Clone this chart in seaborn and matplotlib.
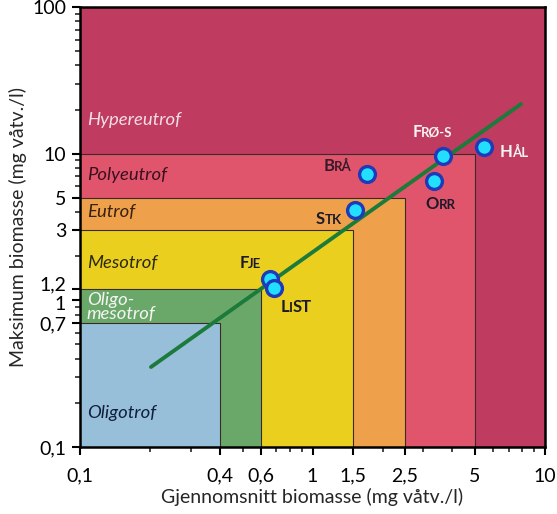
import matplotlib
matplotlib.use("Agg")
import matplotlib.pyplot as plt
import seaborn as sns
import pandas as pd
from matplotlib.patches import Rectangle
from matplotlib.ticker import FixedLocator, FixedFormatter, NullFormatter
from matplotlib.transforms import ScaledTranslation

# ---- data ----
classes = ["Hypereutrof", "Polyeutrof", "Eutrof", "Mesotrof", "Oligo-\nmesotrof", "Oligotrof"]
class_x_max = [10, 5, 2.5, 1.5, 0.6, 0.4]
class_y_max = [100, 10, 5, 3, 1.2, 0.7]
class_colors = ["#C03B60", "#E0556B", "#EEA14A", "#EBCF1E", "#6AA86A", "#98BFDA"]
class_label_y = [16.9, 7.1, 4.0, 1.80, 0.90, 0.17]
class_label_color = ["#F2DDE4", "#3A1020", "#3A2010", "#2A2A10", "#F4F4F4", "#10203A"]

lakes = ["Fje", "LiST", "Stk", "Brå", "Frø-S", "Orr", "Hål"]
mean_biomass = [0.655, 0.683, 1.52, 1.71, 3.64, 3.33, 5.47]
max_biomass = [1.40, 1.21, 4.13, 7.26, 9.64, 6.50, 11.1]

line_x = [0.202, 7.89]
line_y = [0.351, 21.8]

x_ticks = [0.1, 0.4, 0.6, 1, 1.5, 2.5, 5, 10]
x_ticklabels = ["0,1", "0,4", "0,6", "1", "1,5", "2,5", "5", "10"]
y_ticks = [0.1, 0.7, 1, 1.2, 3, 5, 10, 100]
y_ticklabels = ["0,1", "0,7", "1", "1,2", "3", "5", "10", "100"]

sns.set_style("white")
plt.rcParams["font.family"] = ["Lato", "DejaVu Sans"]

fig = plt.figure(figsize=(5.57, 5.14), dpi=100)
ax = fig.add_axes([0.1436, 0.1304, 0.8349, 0.856])
ax.set_xscale("log")
ax.set_yscale("log")
ax.set_xlim(0.1, 10)
ax.set_ylim(0.1, 100)

for name, xm, ym, c, ly, lc in zip(classes, class_x_max, class_y_max, class_colors,
                                     class_label_y, class_label_color):
    ax.add_patch(Rectangle((0.1, 0.1), xm - 0.1, ym - 0.1, facecolor=c,
                           edgecolor="#3a2a2a", linewidth=0.8, zorder=1))
    ax.text(0.107, ly, name, style="italic", fontsize=13.3, color=lc,
            va="center", ha="left", zorder=2, linespacing=0.9)

df_line = pd.DataFrame({"x": line_x, "y": line_y})
sns.lineplot(data=df_line, x="x", y="y", ax=ax, color="#1C7A3A", linewidth=2.8, zorder=3)

df = pd.DataFrame({"lake": lakes, "x": mean_biomass, "y": max_biomass})
sns.scatterplot(data=df, x="x", y="y", ax=ax, s=130, color="#22DEFF",
                edgecolor="#1F3AB8", linewidth=2.4, zorder=4, legend=False)

# small-caps style labels: parts, offset (pt) of baseline start, colour
label_parts = {
    "Fje": (["F", "JE"], -22, 8, "#1A1A2A"),
    "LiST": (["L", "I", "ST"], 5, -17, "#1A1A2A"),
    "Stk": (["S", "TK"], -28, -10, "#1A1A2A"),
    "Brå": (["B", "RÅ"], -31, 2, "#3A1A2A"),
    "Frø-S": (["F", "RØ-S"], -22, 14, "#F4F4F4"),
    "Orr": (["O", "RR"], -6, -20, "#1A1A2A"),
    "Hål": (["H", "ÅL"], 11, -7, "#F4F4F4"),
}
fig.canvas.draw()
renderer = fig.canvas.get_renderer()
for lake, xv, yv in zip(lakes, mean_biomass, max_biomass):
    parts, dx, dy, col = label_parts[lake]
    cur = dx
    for i, p in enumerate(parts):
        big = (i == 0) or (lake == "LiST" and p == "ST")
        t = ax.annotate(p, xy=(xv, yv), xytext=(cur, dy), textcoords="offset points",
                        fontsize=12 if big else 9.5, fontweight="bold", color=col,
                        ha="left", va="baseline", zorder=5)
        w = t.get_window_extent(renderer).width * 72 / fig.dpi
        cur += w - 0.4

# ticks
ax.xaxis.set_major_locator(FixedLocator(x_ticks))
ax.xaxis.set_major_formatter(FixedFormatter(x_ticklabels))
ax.xaxis.set_minor_formatter(NullFormatter())
ax.yaxis.set_major_locator(FixedLocator(y_ticks))
ax.yaxis.set_major_formatter(FixedFormatter(y_ticklabels))
ax.yaxis.set_minor_formatter(NullFormatter())
ax.tick_params(axis="both", which="major", direction="out", length=6, width=1.5,
               labelsize=14, colors="black", bottom=True, left=True, pad=9)
ax.tick_params(axis="both", which="minor", direction="out", length=3.5, width=1.2,
               bottom=True, left=True)
ax.tick_params(axis="y", which="major", pad=4)

fig.canvas.draw()
for lbl in ax.get_yticklabels():
    if lbl.get_text() == "1,2":
        lbl.set_transform(lbl.get_transform() + ScaledTranslation(0, 4 / 72, fig.dpi_scale_trans))
    elif lbl.get_text() == "1":
        lbl.set_transform(lbl.get_transform() + ScaledTranslation(0, -2 / 72, fig.dpi_scale_trans))

for s in ax.spines.values():
    s.set_linewidth(1.8)
    s.set_color("black")
    s.set_zorder(6)

ax.set_xlabel("Gjennomsnitt biomasse (mg våtv./l)", fontsize=14, labelpad=2)
ax.set_ylabel("Maksimum biomasse (mg våtv./l)", fontsize=14, labelpad=4)

fig.savefig("out.png", dpi=100)
